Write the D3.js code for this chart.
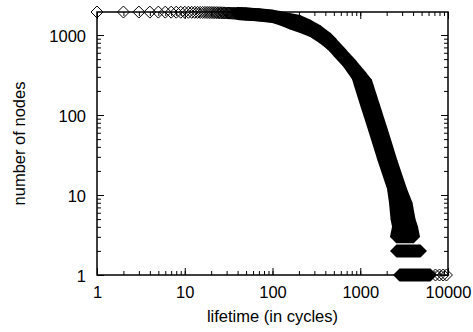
<!DOCTYPE html>
<html>
<head>
<meta charset="utf-8">
<script src="https://cdn.jsdelivr.net/npm/d3@7"></script>
<style>
  body { margin: 0; background: #fff; }
  svg { display: block; }
</style>
</head>
<body>
<svg id="chart" width="473" height="332"></svg>
<script>
// first lifetimes, each one still shows as its own diamond
const earlyLifetime = [1, 2, 3, 4, 5, 6, 7, 8, 9, 10, 11, 12, 13, 14, 15, 16, 17, 18, 19, 20,
  21, 22, 23, 24, 25, 26, 27, 28, 29, 30, 31, 32, 33, 34, 35, 36, 37, 38, 39, 40];
const earlyNodes = [1940, 1938, 1937, 1935, 1934, 1933, 1931, 1930, 1928, 1927, 1925, 1923,
  1922, 1920, 1919, 1917, 1915, 1913, 1912, 1910, 1907, 1905, 1903, 1900, 1898, 1896, 1893,
  1890, 1888, 1885, 1883, 1880, 1878, 1875, 1872, 1870, 1867, 1864, 1861, 1858];

// dense part: upper / lower edge of the scatter
const upperLifetime = [40, 50, 70, 99, 122, 158, 206, 268, 348, 452, 588, 764, 994, 1148,
  1416, 1747, 2240, 2876, 3322, 3594, 3838, 4045];
const upperNodes = [1858, 1835, 1790, 1728, 1655, 1562, 1475, 1296, 1106, 891, 649, 473, 335,
  274, 133, 65, 27, 12, 8, 5, 4, 3];
const lowerLifetime = [40, 50, 70, 99, 122, 158, 206, 268, 348, 452, 588, 764, 955, 1178,
  1454, 1865, 2392, 2522, 2624, 2729, 2589];
const lowerNodes = [1858, 1830, 1775, 1703, 1585, 1413, 1277, 1135, 944, 750, 546, 398, 280,
  133, 65, 27, 12, 8, 5, 4, 3];

// last rows: node count and the lifetime span they cover
const rowNodes = [2, 1];
const rowFirst = [2589, 2802];
const rowLast = [4861, 6318];

// isolated points at the far end
const tailLifetime = [7200, 8000, 8800, 9600];
const tailNodes = [1, 1, 1, 1];

const xMajor = [1, 10, 100, 1000, 10000];
const yMajor = [1, 10, 100, 1000];

const font = '"Liberation Sans", Arial, Helvetica, sans-serif';
const fontSize = 16.5;
const r = 6.5;

const x = d3.scaleLog().domain([1, 10000]).range([97, 448]);
const y = d3.scaleLog().domain([1, 1940]).range([275, 12]);

const svg = d3.select('#chart');

function diamond(px, py, s = r) {
  return [[px - s, py], [px, py - s], [px + s, py], [px, py + s]];
}

// axes (ticks inward, mirrored on top and right)
function styleAxis(g) {
  g.select('.domain').remove();
  g.selectAll('line').attr('stroke', '#000').attr('stroke-width', 1);
  g.attr('font-family', font).attr('font-size', fontSize);
  g.selectAll('text').attr('fill', '#000');
}

const axes = svg.append('g');

axes.append('g').attr('transform', 'translate(0,275)')
  .call(d3.axisBottom(x).tickValues(xMajor).tickFormat(d3.format('d'))
    .tickSize(-7).tickSizeOuter(0).tickPadding(11))
  .call(styleAxis);
axes.append('g').attr('transform', 'translate(0,275)')
  .call(d3.axisBottom(x).tickValues(x.ticks()).tickFormat('').tickSize(-4).tickSizeOuter(0))
  .call(styleAxis);
axes.append('g').attr('transform', 'translate(0,12)')
  .call(d3.axisTop(x).tickValues(xMajor).tickFormat('').tickSize(-7).tickSizeOuter(0))
  .call(styleAxis);
axes.append('g').attr('transform', 'translate(0,12)')
  .call(d3.axisTop(x).tickValues(x.ticks()).tickFormat('').tickSize(-4).tickSizeOuter(0))
  .call(styleAxis);

axes.append('g').attr('transform', 'translate(97,0)')
  .call(d3.axisLeft(y).tickValues(yMajor).tickFormat(d3.format('d'))
    .tickSize(-7).tickSizeOuter(0).tickPadding(11))
  .call(styleAxis)
  .call(g => g.selectAll('text').attr('dy', '0.4em'));
axes.append('g').attr('transform', 'translate(97,0)')
  .call(d3.axisLeft(y).tickValues(y.ticks()).tickFormat('').tickSize(-4).tickSizeOuter(0))
  .call(styleAxis);
axes.append('g').attr('transform', 'translate(448,0)')
  .call(d3.axisRight(y).tickValues(yMajor).tickFormat('').tickSize(-7).tickSizeOuter(0))
  .call(styleAxis);
axes.append('g').attr('transform', 'translate(448,0)')
  .call(d3.axisRight(y).tickValues(y.ticks()).tickFormat('').tickSize(-4).tickSizeOuter(0))
  .call(styleAxis);

svg.append('rect')
  .attr('x', x.range()[0]).attr('y', y.range()[1])
  .attr('width', x.range()[1] - x.range()[0])
  .attr('height', y.range()[0] - y.range()[1])
  .attr('fill', 'none').attr('stroke', '#000').attr('stroke-width', 1.5);

// titles
svg.append('text')
  .attr('x', (x.range()[0] + x.range()[1]) / 2).attr('y', 322)
  .attr('text-anchor', 'middle')
  .attr('font-family', font).attr('font-size', fontSize)
  .text('lifetime (in cycles)');
svg.append('text')
  .attr('transform', `translate(25,${(y.range()[0] + y.range()[1]) / 2}) rotate(-90)`)
  .attr('text-anchor', 'middle')
  .attr('font-family', font).attr('font-size', fontSize)
  .text('number of nodes');

// data
const marks = svg.append('g');

const upper = upperLifetime.map((d, i) => [x(d), y(upperNodes[i])]);
const lower = lowerLifetime.map((d, i) => [x(d), y(lowerNodes[i])]);
const band = upper.concat(lower.slice().reverse());

marks.append('path')
  .attr('d', 'M' + band.join('L') + 'Z')
  .attr('fill', '#000');

// outline of the band swept by a diamond
const hulls = band.map((p, i) => {
  const q = band[(i + 1) % band.length];
  return d3.polygonHull(diamond(p[0], p[1]).concat(diamond(q[0], q[1])));
});
marks.selectAll('path.edge')
  .data(hulls)
  .enter()
  .append('path')
  .attr('class', 'edge')
  .attr('d', h => 'M' + h.join('L') + 'Z')
  .attr('fill', '#000');

marks.selectAll('path.row')
  .data(rowNodes)
  .enter()
  .append('path')
  .attr('class', 'row')
  .attr('d', (d, i) => {
    const h = d3.polygonHull(diamond(x(rowFirst[i]), y(d)).concat(diamond(x(rowLast[i]), y(d))));
    return 'M' + h.join('L') + 'Z';
  })
  .attr('fill', '#000');

const single = earlyLifetime.map((d, i) => [d, earlyNodes[i]])
  .concat(tailLifetime.map((d, i) => [d, tailNodes[i]]));

marks.selectAll('path.pt')
  .data(single)
  .enter()
  .append('path')
  .attr('class', 'pt')
  .attr('d', d => 'M' + diamond(x(d[0]), y(d[1]), r - 0.5).join('L') + 'Z')
  .attr('fill', 'none')
  .attr('stroke', '#000')
  .attr('stroke-width', 1);
</script>
</body>
</html>
